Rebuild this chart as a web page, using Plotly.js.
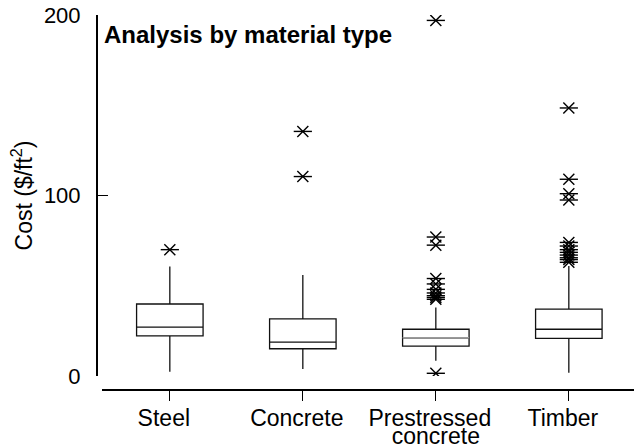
<!DOCTYPE html>
<html>
<head>
<meta charset="utf-8">
<script src="https://cdn.plot.ly/plotly-3.0.1.min.js"></script>
<style>
  html, body { margin: 0; padding: 0; background: #fff; }
  #chart { width: 634px; height: 448px; }
</style>
</head>
<body>
<div id="chart"></div>
<script>
// Cost per square foot of bridge deck, by superstructure material
const categories = ['Steel', 'Concrete', 'Prestressed concrete', 'Timber'];
const labelLine1 = ['Steel', 'Concrete', 'Prestressed', 'Timber'];
const labelLine2 = ['', '', 'concrete', ''];

// Box statistics ($/ft²)
const lowerFence = [2.4, 3.9, 8.5, 1.8];
const q1 = [22.2, 15.1, 16.6, 20.9];
const median = [27.1, 18.8, 21.2, 25.9];
const q3 = [39.9, 31.6, 25.9, 37.1];
const upperFence = [60.6, 56.0, 38.0, 61.0];

// Outliers per material
const steelOutliers = [70];
const concreteOutliers = [135.5, 110.5];
const prestressedOutliers = [197, 77, 72.5, 54, 51, 48, 46, 44.5, 43.5, 42.5, 1.5];
const timberOutliers = [148.5, 109, 101, 97.5, 74, 72, 70, 68.5, 67, 65.5, 64.5, 63];

const yTicks = [0, 100, 200];

const FONT = 'Liberation Sans, Arial, Helvetica, sans-serif';
const BOX_WIDTH = 0.5;
const X_RANGE = [-0.51, 3.49];

const outlierSets = [steelOutliers, concreteOutliers, prestressedOutliers, timberOutliers];
const outX = [], outY = [];
outlierSets.forEach((vals, i) => {
  vals.forEach(v => { outX.push(categories[i]); outY.push(v); });
});

const boxTrace = {
  type: 'box',
  x: categories,
  q1: q1,
  median: median,
  q3: q3,
  lowerfence: lowerFence,
  upperfence: upperFence,
  boxpoints: false,
  width: BOX_WIDTH,
  whiskerwidth: 0,
  line: { color: '#111', width: 1.3 },
  fillcolor: 'rgba(255,255,255,0)',
  showlegend: false,
  hoverinfo: 'skip'
};

// Asterisk-like outlier marks: an X with a horizontal bar
const starX = {
  type: 'scatter', mode: 'markers', x: outX, y: outY,
  marker: { symbol: 'x-thin-open', size: 11, color: '#000', line: { color: '#000', width: 1.4 } },
  showlegend: false, hoverinfo: 'skip'
};
const starBar = {
  type: 'scatter', mode: 'markers', x: outX, y: outY,
  marker: { symbol: 'line-ew-open', size: 13, color: '#000', line: { color: '#000', width: 1.4 } },
  showlegend: false, hoverinfo: 'skip'
};

// Prestressed concrete median is drawn in grey
const pIdx = categories.indexOf('Prestressed concrete');
const greyMedian = {
  type: 'scatter', mode: 'lines', xaxis: 'x2', yaxis: 'y',
  x: [pIdx - BOX_WIDTH / 2, pIdx + BOX_WIDTH / 2],
  y: [median[pIdx], median[pIdx]],
  line: { color: '#9a9a9a', width: 1.4 },
  showlegend: false, hoverinfo: 'skip'
};

const plotW = 634 - 96;
const xDomain = [6 / plotW, 1];
const plotH = 448 - 15 - 58;
const yDomain = [14 / plotH, 1];

const layout = {
  width: 634,
  height: 448,
  margin: { l: 96, r: 0, t: 15, b: 58, pad: 0 },
  paper_bgcolor: '#fff',
  plot_bgcolor: '#fff',
  font: { family: FONT, color: '#000', size: 22 },
  title: {
    text: '<b>Analysis by material type</b>',
    font: { family: FONT, size: 24, color: '#000' },
    xref: 'container', yref: 'container',
    x: 104 / 634, xanchor: 'left',
    y: 1 - 26 / 448, yanchor: 'top'
  },
  xaxis: {
    type: 'category',
    domain: xDomain,
    range: X_RANGE,
    anchor: 'free', position: 0,
    tickmode: 'array',
    tickvals: categories,
    ticktext: labelLine1,
    ticks: 'outside', ticklen: 10, tickwidth: 1.2, tickcolor: '#000',
    showline: true, linecolor: '#000', linewidth: 2,
    showgrid: false, zeroline: false,
    tickfont: { family: FONT, size: 23, color: '#000' },
    ticklabelshift: -6,
    ticklabelstandoff: -3
  },
  xaxis2: {
    type: 'linear',
    overlaying: 'x',
    domain: xDomain,
    range: X_RANGE,
    anchor: 'free', position: 0,
    tickmode: 'array',
    tickvals: labelLine2.map((t, i) => i).filter(i => labelLine2[i] !== ''),
    ticktext: labelLine2.filter(t => t !== ''),
    ticks: '', showline: false, showgrid: false, zeroline: false,
    tickfont: { family: FONT, size: 23, color: '#000' },
    ticklabelstandoff: 30
  },
  yaxis: {
    domain: yDomain,
    range: [0, 200],
    anchor: 'free', position: 0,
    tickmode: 'array', tickvals: yTicks,
    ticks: 'inside', ticklen: 10, tickwidth: 1.2, tickcolor: '#000',
    showline: true, linecolor: '#000', linewidth: 1.5,
    showgrid: false, zeroline: false,
    tickfont: { family: FONT, size: 22, color: '#000' },
    ticklabelstandoff: 11,
    title: { text: 'Cost ($/ft<sup>2</sup>)', font: { family: FONT, size: 23, color: '#000' }, standoff: 3 }
  }
};

Plotly.newPlot('chart', [boxTrace, greyMedian, starX, starBar], layout, { staticPlot: true, displayModeBar: false });
</script>
</body>
</html>
